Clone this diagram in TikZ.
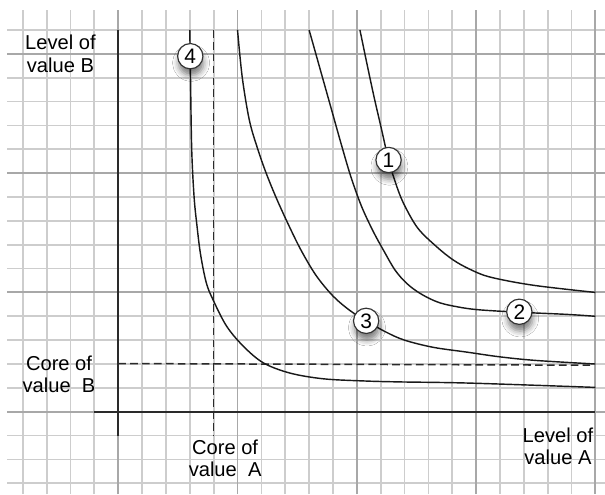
\documentclass[tikz,border=0pt]{standalone}
\usepackage{fontspec}
\setmainfont{Liberation Sans}
\usetikzlibrary{shadows.blur}
\definecolor{gridminor}{HTML}{CDCDCD}
\definecolor{gridmajor}{HTML}{A8A8A8}
\definecolor{axisgray}{HTML}{2A2A2A}

\begin{document}
\begin{tikzpicture}[
    x=0.5cm, y=0.5cm,
    every node/.style={font=\fontsize{12}{13.2}\selectfont},
    minor line/.style={draw=gridminor, line width=1.05pt},
    major line/.style={draw=gridmajor, line width=1.15pt},
    axis line/.style={draw=axisgray, line width=1.1pt},
    core line/.style={draw=axisgray, line width=0.9pt, dash pattern=on 4.6pt off 2.5pt},
    curve/.style={draw=black!90, line width=0.85pt},
    num/.style={
        circle, draw=black!80, fill=white, line width=0.7pt,
        minimum size=0.53cm, inner sep=0pt, font=\fontsize{12.5}{13}\selectfont,
        blur shadow={shadow xshift=0.5pt, shadow yshift=-4pt,
                     shadow blur radius=3.5pt, shadow opacity=50}
    },
    caption/.style={align=center, inner sep=0pt},
]

\useasboundingbox[fill=white] (-4.954,-3.45) rectangle (20.4,17.255);

% === Grid ===
\foreach \u in {-4,...,20}
    \draw[minor line] (\u,-3.45) -- (\u,16.84);
\foreach \v in {-3,...,16}
    \draw[minor line] (-4.66,\v) -- (20.4,\v);
\foreach \u in {0,5,10,15,20}
    \draw[major line] (\u,-3.45) -- (\u,16.84);
\foreach \v in {0,5,10,15}
    \draw[major line] (-4.66,\v) -- (20.4,\v);

% === Axes ===
\coordinate (ytop) at (0,16);
\coordinate (ybot) at (0,-1);
\coordinate (xleft) at (-1,0);
\coordinate (xright) at (20,0);
\draw[axis line] (ybot) -- (ytop);
\draw[axis line] (xleft) -- (xright);

% === Core levels ===
\coordinate (coreAtop) at (4,16);
\coordinate (coreAbot) at (4,-1);
\coordinate (coreBleft) at (0,2.02);
\coordinate (coreBright) at (19.78,1.95);
\draw[core line] (coreAtop) -- (coreAbot);
\draw[core line] (coreBleft) -- (coreBright);

% === Curves ===
\draw[curve] plot[smooth, tension=0.55] coordinates {
    (10.13,16) (10.42,14.6) (10.72,13.2) (11.02,11.9) (11.33,10.55)
    (11.62,9.6) (11.95,8.75) (12.55,7.7) (13.35,6.91) (14.04,6.36)
    (14.74,5.97) (15.6,5.64) (17.4,5.3) (20,5.0)};
\draw[curve] plot[smooth, tension=0.55] coordinates {
    (8.0,16) (8.45,14.4) (8.9,12.8) (9.35,11.2) (9.75,9.85) (10.2,8.6)
    (10.69,7.55) (11.11,6.78) (11.6,5.94) (12.09,5.38) (12.65,4.96)
    (13.35,4.61) (14.04,4.43) (15.03,4.28) (16.81,4.17) (18.8,4.08) (20,4.0)};
\draw[curve] plot[smooth, tension=0.55] coordinates {
    (5.0,16) (5.2,14) (5.5,12.2) (5.85,11) (6.2,10) (6.65,8.9) (7.2,7.7)
    (7.7,6.7) (8.3,5.7) (9.0,4.85) (9.7,4.25) (10.39,3.81) (11.2,3.35)
    (12.0,3.0) (13.2,2.7) (14.6,2.5) (16,2.3) (17.5,2.15) (20,2.0)};
\draw[curve] plot[smooth, tension=0.55] coordinates {
    (3.0,16) (3.03,14) (3.08,11) (3.18,9) (3.3,7.8) (3.45,6.6) (3.69,5.41)
    (3.97,4.7) (4.54,3.59) (5.24,2.75) (6.08,2.05) (7.2,1.62) (8.6,1.38)
    (10.3,1.29) (11.8,1.25) (14.74,1.2) (20,1.02)};

% === Curve numbers ===
\node[num] (one) at (11.33,10.55) {1};
\node[num] (two) at (16.81,4.19) {2};
\node[num] (three) at (10.39,3.81) {3};
\node[num] (four) at (3.02,14.9) {4};

% === Axis labels ===
\node[caption] (levelB) at (-2.42,15.0) {Level of\\value B};
\node[caption] (coreB) at (-2.48,1.56) {Core of\\value~~B};
\node[caption] (coreA) at (4.48,-1.94) {Core of\\value~~A};
\node[caption] (levelA) at (18.43,-1.44) {Level of\\value A};

\end{tikzpicture}
\end{document}
